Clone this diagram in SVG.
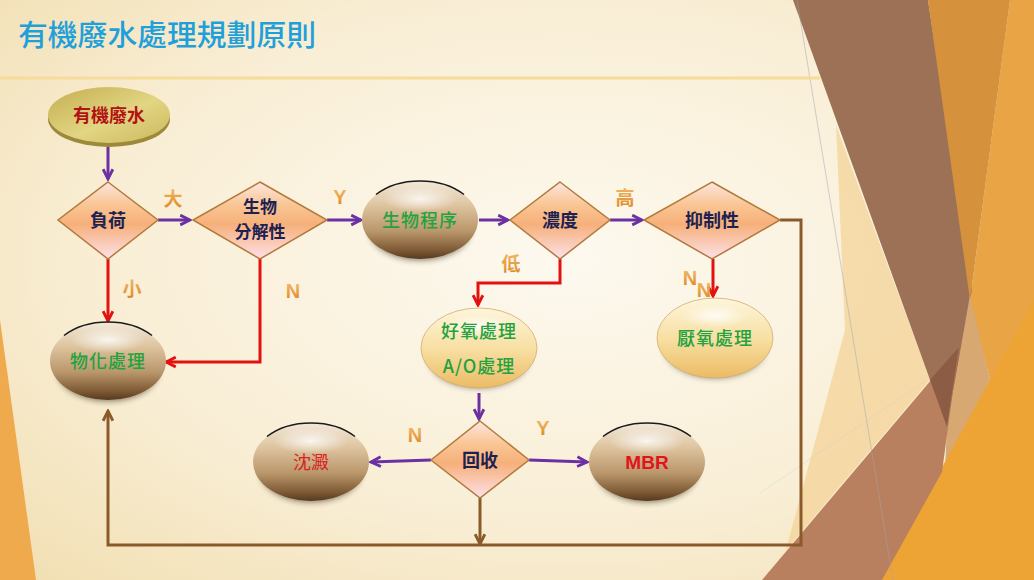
<svg xmlns="http://www.w3.org/2000/svg" xmlns:xlink="http://www.w3.org/1999/xlink" width="1034" height="580" viewBox="0 0 1034 580">
<defs>
<style>
.cjk{font-family:"Noto Sans CJK TC","Noto Sans CJK SC",sans-serif;}
.ttl{font-size:29px;fill:#1fa0da;font-weight:500;}
.dt{font-size:18px;font-weight:700;fill:#1c2152;text-anchor:middle;}
.dt2{font-size:17px;font-weight:700;fill:#1c2152;text-anchor:middle;}
.gt{font-size:18px;font-weight:500;fill:#23a23f;text-anchor:middle;letter-spacing:1px;}
.rt{font-size:18px;font-weight:400;fill:#d8231f;text-anchor:middle;}
.mbr{font-family:"Liberation Sans",Arial,sans-serif;font-size:19px;font-weight:700;fill:#e0141a;text-anchor:middle;}
.lab{font-size:19px;font-weight:700;fill:url(#labG);text-anchor:middle;}
.labL{font-family:"Liberation Sans",Arial,sans-serif;font-size:20px;font-weight:700;fill:url(#labG);text-anchor:middle;}
.dia{fill:url(#diaG);stroke:#b27a3a;stroke-width:1.5;}
.cp{fill:none;stroke:#6b31a3;stroke-width:3;}
.cr{fill:none;stroke:#e3120f;stroke-width:3;}
.cb{fill:none;stroke:#8b5a2b;stroke-width:3;}
</style>
<radialGradient id="bgG" cx="0.55" cy="0.45" r="0.75">
<stop offset="0" stop-color="#fdf9ef"/>
<stop offset="0.6" stop-color="#f9eed5"/>
<stop offset="1" stop-color="#f2e0b4"/>
</radialGradient>
<linearGradient id="labG" x1="0" y1="0" x2="0" y2="1">
<stop offset="0" stop-color="#f4c070"/>
<stop offset="1" stop-color="#dc8420"/>
</linearGradient>
<linearGradient id="diaG" x1="0" y1="0" x2="0" y2="1">
<stop offset="0" stop-color="#fde6e0"/>
<stop offset="0.3" stop-color="#f9c593"/>
<stop offset="0.55" stop-color="#f6b07a"/>
<stop offset="1" stop-color="#fde0ea"/>
</linearGradient>
<linearGradient id="bronzeG" x1="0" y1="0" x2="0" y2="1">
<stop offset="0" stop-color="#f3e9da"/>
<stop offset="0.33" stop-color="#dcc29c"/>
<stop offset="0.65" stop-color="#b9956a"/>
<stop offset="0.9" stop-color="#7a5632"/>
<stop offset="1" stop-color="#553a1e"/>
</linearGradient>
<radialGradient id="hiG" cx="0.5" cy="0.5" r="0.5">
<stop offset="0" stop-color="#ffffff" stop-opacity="0.8"/>
<stop offset="1" stop-color="#ffffff" stop-opacity="0"/>
</radialGradient>
<linearGradient id="paleG" x1="0" y1="0" x2="0" y2="1">
<stop offset="0" stop-color="#fdf5dc"/>
<stop offset="0.5" stop-color="#f8e0a4"/>
<stop offset="1" stop-color="#ebbb64"/>
</linearGradient>
<linearGradient id="goldG" x1="0" y1="0" x2="1" y2="1">
<stop offset="0" stop-color="#c4ae50"/>
<stop offset="0.55" stop-color="#e2d583"/>
<stop offset="1" stop-color="#cbb85c"/>
</linearGradient>
<filter id="blur" x="-30%" y="-30%" width="160%" height="160%">
<feGaussianBlur stdDeviation="3"/>
</filter>
<marker id="mp" viewBox="0 0 12 12" refX="10.5" refY="6" markerWidth="13" markerHeight="13" markerUnits="userSpaceOnUse" orient="auto">
<path d="M1.5,1.5 L10.5,6 L1.5,10.5" fill="none" stroke="#6b31a3" stroke-width="2.6"/>
</marker>
<marker id="mr" viewBox="0 0 12 12" refX="10.5" refY="6" markerWidth="13" markerHeight="13" markerUnits="userSpaceOnUse" orient="auto">
<path d="M1.5,1.5 L10.5,6 L1.5,10.5" fill="none" stroke="#e3120f" stroke-width="2.6"/>
</marker>
<marker id="mb" viewBox="0 0 12 12" refX="10.5" refY="6" markerWidth="13" markerHeight="13" markerUnits="userSpaceOnUse" orient="auto">
<path d="M1.5,1.5 L10.5,6 L1.5,10.5" fill="none" stroke="#8b5a2b" stroke-width="2.6"/>
</marker>
<g id="bronze">
<ellipse cx="0" cy="10" rx="50" ry="30" fill="#2a1d10" opacity="0.6" filter="url(#blur)"/>
<ellipse cx="0" cy="0" rx="58" ry="39" fill="url(#bronzeG)"/>
<ellipse cx="0" cy="-21" rx="38" ry="13" fill="url(#hiG)"/>
<path d="M-44,-25.5 A58,39 0 0 1 44,-25.5" fill="none" stroke="#1a1a1a" stroke-width="1.5"/>
</g>
<g id="pale">
<ellipse cx="0" cy="10" rx="50" ry="30" fill="#3a3020" opacity="0.55" filter="url(#blur)"/>
<ellipse cx="0" cy="0" rx="58" ry="40" fill="url(#paleG)" stroke="#d2ad6c" stroke-width="0.8"/>
<ellipse cx="0" cy="-22" rx="34" ry="12" fill="url(#hiG)"/>
</g>
</defs>

<!-- background -->
<rect x="0" y="0" width="1034" height="580" fill="url(#bgG)"/>
<polygon points="0,320 36,580 0,580" fill="#eeaa4c"/>
<polygon points="836,125 930,380 786,550 845,330" fill="#f4d294" opacity="0.7"/>
<polygon points="1010,0 1034,0 1034,580 880,580 945,470 990,380 970,300" fill="#e8a445"/>
<polygon points="793,0 928,0 972,290 947,427" fill="#9d7155"/>
<polygon points="928,0 1010,0 970,300" fill="#d5913b"/>
<polygon points="970,295 990,380 945,470 947,427" fill="#d8a872"/>
<polygon points="880,580 1034,300 1034,580" fill="#eea435"/>
<polygon points="762,580 959,347 942,472 882,580" fill="#b9805f"/>
<polygon points="930,380 959,347 947,427" fill="#8c5c45"/>
<line x1="797" y1="0" x2="893" y2="580" stroke="#9ea3b0" stroke-width="0.7" opacity="0.7"/>
<line x1="760" y1="493" x2="927" y2="380" stroke="#c8ccd4" stroke-width="0.6" opacity="0.6"/>
<line x1="0" y1="78" x2="820" y2="78" stroke="#f5dc9a" stroke-width="3"/>
<text class="cjk ttl" x="18" y="46" textLength="298" lengthAdjust="spacingAndGlyphs">有機廢水處理規劃原則</text>

<!-- connectors -->
<g id="connectors">
<path class="cp" d="M108,144 L108,179" marker-end="url(#mp)"/>
<path class="cp" d="M158,220 L190,220" marker-end="url(#mp)"/>
<path class="cp" d="M327,220 L361,220" marker-end="url(#mp)"/>
<path class="cp" d="M479,220 L508,220" marker-end="url(#mp)"/>
<path class="cp" d="M610,220 L642,220" marker-end="url(#mp)"/>
<path class="cr" d="M108,259 L108,321" marker-end="url(#mr)"/>
<path class="cr" d="M260,259 L260,362 L166,362" marker-end="url(#mr)"/>
<path class="cr" d="M560,259 L560,283 L478,283 L478,305" marker-end="url(#mr)"/>
<path class="cr" d="M713,259 L713,296" marker-end="url(#mr)"/>
<path class="cp" d="M479,393 L479,419" marker-end="url(#mp)"/>
<path class="cp" d="M431,460 L371,462" marker-end="url(#mp)"/>
<path class="cp" d="M529,460 L587,462" marker-end="url(#mp)"/>
<path class="cb" d="M780,220 L801,220 L801,545 L108,545 L108,411" marker-end="url(#mb)"/>
<path class="cb" d="M480,498 L480,544" marker-end="url(#mb)"/>
<text class="cjk lab" x="173" y="206">大</text>
<text class="labL" x="340" y="204">Y</text>
<text class="cjk lab" x="625" y="205">高</text>
<text class="cjk lab" x="511" y="271">低</text>
<text class="cjk lab" x="132" y="296">小</text>
<text class="labL" x="293" y="298">N</text>
<text class="labL" x="690" y="285">N</text>
<text class="labL" x="704" y="297">N</text>
<text class="labL" x="415" y="442">N</text>
<text class="labL" x="543" y="435">Y</text>
</g>

<!-- nodes -->
<g id="n-wastewater">
<ellipse cx="109" cy="119" rx="61" ry="28" fill="#9c8a3a"/>
<ellipse cx="109" cy="115" rx="61" ry="28" fill="url(#goldG)"/>
<text class="cjk" x="109" y="122" font-size="18" font-weight="700" fill="#b31212" text-anchor="middle">有機廢水</text>
</g>
<g id="n-load">
<polygon class="dia" points="108,182 158,220 108,259 58,220"/>
<text class="cjk dt" x="108" y="227">負荷</text>
</g>
<g id="n-biodeg">
<polygon class="dia" points="260,182 327,220 260,259 193,220"/>
<text class="cjk dt2" x="260" y="213">生物</text>
<text class="cjk dt2" x="260" y="238">分解性</text>
</g>
<g id="n-bioproc">
<use xlink:href="#bronze" x="420" y="220"/>
<text class="cjk gt" x="420" y="227">生物程序</text>
</g>
<g id="n-conc">
<polygon class="dia" points="560,182 610,220 560,259 510,220"/>
<text class="cjk dt" x="560" y="227">濃度</text>
</g>
<g id="n-inhib">
<polygon class="dia" points="712,182 780,220 712,259 644,220"/>
<text class="cjk dt" x="712" y="227">抑制性</text>
</g>
<g id="n-physchem">
<use xlink:href="#bronze" x="108" y="361"/>
<text class="cjk gt" x="108" y="368">物化處理</text>
</g>
<g id="n-aerobic">
<use xlink:href="#pale" x="479" y="348"/>
<text class="cjk gt" x="479" y="338">好氧處理</text>
<text class="cjk gt" x="479" y="373">A/O處理</text>
</g>
<g id="n-anaerobic">
<use xlink:href="#pale" x="715" y="338"/>
<text class="cjk gt" x="715" y="345">厭氧處理</text>
</g>
<g id="n-recover">
<polygon class="dia" points="480,421 529,460 480,498 431,460"/>
<text class="cjk dt" x="480" y="467">回收</text>
</g>
<g id="n-sediment">
<use xlink:href="#bronze" x="311" y="462"/>
<text class="cjk rt" x="311" y="469">沈澱</text>
</g>
<g id="n-mbr">
<use xlink:href="#bronze" x="647" y="462"/>
<text class="mbr" x="647" y="469">MBR</text>
</g>
</svg>
